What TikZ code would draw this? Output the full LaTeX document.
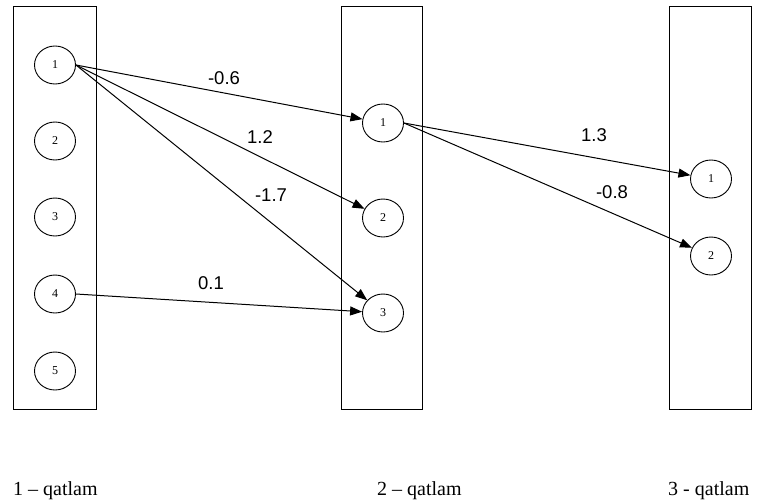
\documentclass[tikz,border=0pt]{standalone}
\usepackage{fontspec}
\setmainfont{Liberation Serif}
\newfontfamily\labelfont{Liberation Sans}
\usetikzlibrary{arrows.meta,shapes.geometric}
\begin{document}
\begin{tikzpicture}[x=1pt,y=-1pt,
  layerbox/.style={draw,line width=1pt},
  neuron/.style={draw,line width=0.9pt,ellipse,minimum width=41pt,minimum height=38pt,inner sep=0pt,font=\fontsize{12}{12}\selectfont},
  conn/.style={line width=1pt,-{Triangle[length=12pt,width=9pt]}},
  wlabel/.style={font=\labelfont\fontsize{18.5}{18.5}\selectfont,inner sep=0pt},
  caption/.style={font=\fontsize{20}{20}\selectfont,inner sep=0pt,anchor=base west}]
\useasboundingbox (0,0) rectangle (775,503);
\draw[layerbox] (13,7) rectangle (96,409);
\draw[layerbox] (341,7) rectangle (422,409);
\draw[layerbox] (669,7) rectangle (751,409);
\node[neuron] (a1) at (55,65) {1};
\node[neuron] (a2) at (55,141) {2};
\node[neuron] (a3) at (55,217) {3};
\node[neuron] (a4) at (55,294) {4};
\node[neuron] (a5) at (55,371) {5};
\node[neuron] (b1) at (383,123) {1};
\node[neuron] (b2) at (383,218) {2};
\node[neuron] (b3) at (383,313) {3};
\node[neuron] (c1) at (711,179) {1};
\node[neuron] (c2) at (711,256) {2};
\draw[conn] (a1.east) -- (b1);
\draw[conn] (a1.east) -- (b2);
\draw[conn] (a1.east) -- (b3);
\draw[conn] (a4.east) -- (b3);
\draw[conn] (b1.east) -- (c1);
\draw[conn] (b1.east) -- (c2);
\node[wlabel] (w1) at (224,78) {-0.6};
\node[wlabel] (w2) at (260,137) {1.2};
\node[wlabel] (w3) at (271,195) {-1.7};
\node[wlabel] (w4) at (211,283) {0.1};
\node[wlabel] (w5) at (594,135) {1.3};
\node[wlabel] (w6) at (612,192) {-0.8};
\node[caption] (l1) at (13,495) {1 – qatlam};
\node[caption] (l2) at (377,495) {2 – qatlam};
\node[caption] (l3) at (668,495) {3 - qatlam};
\end{tikzpicture}
\end{document}
